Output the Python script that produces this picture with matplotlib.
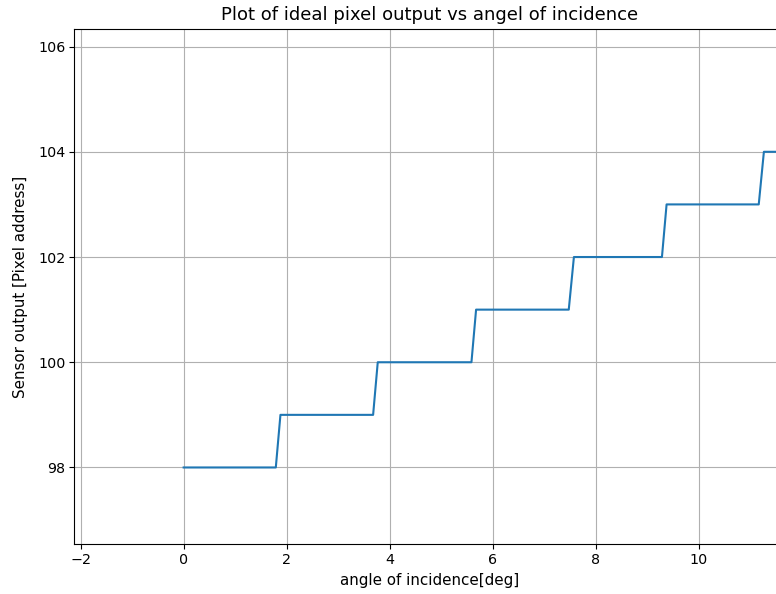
import matplotlib
matplotlib.use("Agg")
import matplotlib.pyplot as plt

# 理想像素输出（阶梯拐点）
angle_deg = [0.0, 1.79, 1.88, 3.68, 3.77, 5.59, 5.68, 7.48, 7.58,
             9.29, 9.38, 11.17, 11.27, 11.9]
pixel_out = [98, 98, 99, 99, 100, 100, 101, 101, 102,
             102, 103, 103, 104, 104]

fig = plt.figure(figsize=(7.76, 5.94), dpi=100)
ax = fig.add_axes([0.096, 0.0837, 0.9156, 0.868])

ax.plot(angle_deg, pixel_out)
ax.set_xlim(-2.12, 11.68)
ax.set_ylim(96.54, 106.34)
ax.set_xticks([-2, 0, 2, 4, 6, 8, 10])
ax.set_yticks([98, 100, 102, 104, 106])
ax.tick_params(labelsize=10.3, pad=3)
ax.grid(True)

ax.set_title("Plot of ideal pixel output vs angel of incidence", fontsize=13)
ax.set_xlabel("angle of incidence[deg]", fontsize=10.9)
ax.set_ylabel("Sensor output [Pixel address]", fontsize=10.9, labelpad=7)

fig.savefig("out.png", dpi=100)
